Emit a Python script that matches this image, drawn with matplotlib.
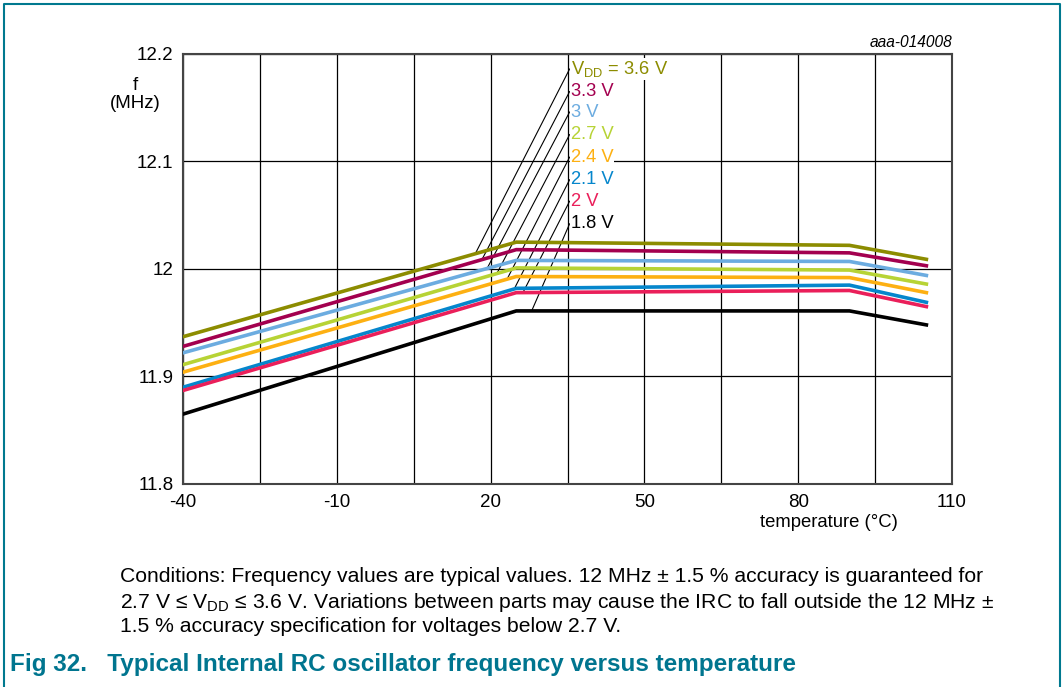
import matplotlib
matplotlib.use("Agg")
import matplotlib.pyplot as plt
import numpy as np

plt.rcParams['font.family'] = ['Liberation Sans', 'DejaVu Sans']
plt.rcParams['mathtext.fontset'] = 'custom'
plt.rcParams['mathtext.rm'] = 'Liberation Sans'
plt.rcParams['mathtext.it'] = 'Liberation Sans:italic'

# temperature breakpoints (°C)
temp = [-40, 25, 90, 105]

# frequency curves (MHz) per supply voltage
f_36 = [11.937, 12.025, 12.022, 12.009]
f_33 = [11.928, 12.018, 12.015, 12.003]
f_30 = [11.922, 12.008, 12.007, 11.994]
f_27 = [11.911, 12.001, 11.999, 11.986]
f_24 = [11.904, 11.993, 11.992, 11.978]
f_21 = [11.890, 11.982, 11.985, 11.969]
f_20 = [11.887, 11.978, 11.980, 11.965]
f_18 = [11.865, 11.961, 11.961, 11.948]

labels = ["V$_{\\rm DD}$ = 3.6 V", "3.3 V", "3 V", "2.7 V", "2.4 V", "2.1 V", "2 V", "1.8 V"]
colors = ["#8c8c00", "#a3004f", "#6cace0", "#b7d335", "#fdb012", "#0586cc", "#ea1f5a", "#000000"]
series = [f_36, f_33, f_30, f_27, f_24, f_21, f_20, f_18]

# where each leader line touches its curve
leader_x = [17, 18.3, 19.3, 21.2, 23.2, 24.6, 26.3, 28]

fig = plt.figure(figsize=(10.63, 6.87), dpi=100)
ax = fig.add_axes([0.1722, 0.2955, 0.7234, 0.6259])

ax.set_xlim(-40, 110)
ax.set_ylim(11.8, 12.2)
ax.set_xticks(np.arange(-40, 111, 15))
ax.set_xticklabels([str(v) if (v + 40) % 30 == 0 else "" for v in range(-40, 111, 15)])
ax.set_yticks([11.8, 11.9, 12.0, 12.1, 12.2])
ax.set_yticklabels(["11.8", "11.9", "12", "12.1", "12.2"])
ax.grid(True, color="black", lw=0.9)
ax.tick_params(length=0, labelsize=13.5, pad=7)
for s in ax.spines.values():
    s.set_color("#444444")
    s.set_linewidth(1.5)

for y, c in zip(series, colors):
    ax.plot(temp, y, color=c, lw=2.6, solid_joinstyle="miter", zorder=3)

# labels with leader lines
lab_x = 35.7
lab_y = [12.186, 12.165, 12.146, 12.125, 12.104, 12.083, 12.063, 12.042]
for i, (lx, ly) in enumerate(zip(leader_x, lab_y)):
    cy = np.interp(lx, temp, series[i])
    ax.plot([lx, lab_x - 0.3], [cy, ly], color="black", lw=0.8, zorder=2)
    ax.text(lab_x, ly, labels[i], color=colors[i], fontsize=13.2, va="center", ha="left",
            bbox=dict(facecolor="white", edgecolor="none", pad=0.5), zorder=4)

ax.text(1.0, 1.01, "aaa-014008", transform=ax.transAxes, ha="right", va="bottom",
        fontsize=11.2, style="italic")
fig.text(0.127, 0.876, "f", fontsize=13.5, ha="center", va="center")
fig.text(0.127, 0.850, "(MHz)", fontsize=13.5, ha="center", va="center")
fig.text(0.78, 0.240, "temperature (°C)", fontsize=13.3, ha="center", va="center")

cap = ["Conditions: Frequency values are typical values. 12 MHz \u00b1 1.5 % accuracy is guaranteed for",
       "2.7 V \u2264 V$_{\\rm DD}$ \u2264 3.6 V. Variations between parts may cause the IRC to fall outside the 12 MHz \u00b1",
       "1.5 % accuracy specification for voltages below 2.7 V."]
for k, line in enumerate(cap):
    fig.text(0.113, 1 - (577 + 25 * k) / 687, line, fontsize=15.2, ha="left", va="center")

fig.text(0.009, 1 - 665 / 687, "Fig 32.   Typical Internal RC oscillator frequency versus temperature",
         fontsize=17.5, fontweight="bold", color="#00758f", ha="left", va="center")

# teal frame
fig.add_artist(plt.Line2D([0.004, 0.004, 0.997, 0.997], [0.0, 0.994, 0.994, 0.0],
                          transform=fig.transFigure, color="#00798f", lw=1.5))

fig.savefig("out.png", dpi=100)
